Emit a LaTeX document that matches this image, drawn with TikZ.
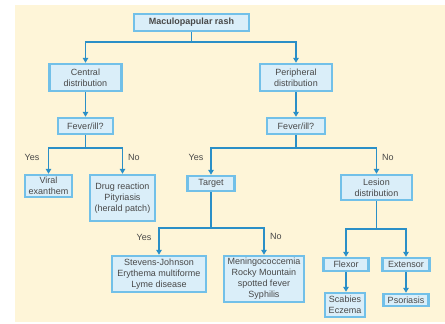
\documentclass[tikz,border=0pt]{standalone}
\usepackage{fontspec}
\setmainfont{Liberation Sans}
\usetikzlibrary{arrows.meta}
\definecolor{cream}{HTML}{FEF5D8}
\definecolor{boxfill}{HTML}{DAEEF9}
\definecolor{boxline}{HTML}{72C0E8}
\definecolor{arrcol}{HTML}{2A8FC7}
\definecolor{txt}{HTML}{484848}
\begin{document}
\begin{tikzpicture}[x=1pt,y=-1pt,
  box/.style={draw=boxline,fill=boxfill,line width=2.4pt,inner sep=0pt,align=center,
    text=txt,font=\fontsize{9}{11}\selectfont},
  conn/.style={draw=arrcol,line width=1.7pt},
  arr/.style={conn,-{Triangle[width=5.5pt,length=5pt]}},
  lab/.style={text=txt,font=\fontsize{9}{11}\selectfont,inner sep=0pt}]
\useasboundingbox (0,0) rectangle (445,324);
\fill[cream] (15,5) rectangle (445,322);
% nodes
\node[box,minimum width=115pt,minimum height=17pt,font=\fontsize{9}{11}\selectfont\bfseries] (top) at (191.5,22.5) {Maculopapular rash};
\node[box,minimum width=72pt,minimum height=27pt] (central) at (85.5,77.5) {Central\\distribution};
\node[box,minimum width=72pt,minimum height=27pt] (periph) at (296,77.5) {Peripheral\\distribution};
\node[box,minimum width=55pt,minimum height=16pt] (fevL) at (85.5,126) {Fever/ill?};
\node[box,minimum width=58pt,minimum height=16pt] (fevR) at (296,126) {Fever/ill?};
\node[box,minimum width=47pt,minimum height=22pt] (viral) at (48.5,186) {Viral\\exanthem};
\node[box,minimum width=65pt,minimum height=46pt] (drug) at (122.5,198) {Drug reaction\\Pityriasis\\(herald patch)};
\node[box,minimum width=47pt,minimum height=15pt] (target) at (211,183.5) {Target};
\node[box,minimum width=71pt,minimum height=25pt] (lesion) at (376.5,187.5) {Lesion\\distribution};
\node[box,minimum width=94pt,minimum height=36pt] (stevens) at (159,274) {Stevens-Johnson\\Erythema multiforme\\Lyme disease};
\node[box,minimum width=80pt,minimum height=46pt] (meningo) at (264,279) {Meningococcemia\\Rocky Mountain\\spotted fever\\Syphilis};
\node[box,minimum width=45pt,minimum height=13pt] (flexor) at (346,264.5) {Flexor};
\node[box,minimum width=47pt,minimum height=13pt] (extensor) at (406,264.5) {Extensor};
\node[box,minimum width=40pt,minimum height=24pt] (scabies) at (345,305) {Scabies\\Eczema};
\node[box,minimum width=45pt,minimum height=12pt] (psoriasis) at (406,300) {Psoriasis};
% connectors
\draw[arr] (top.south) -- (top.south |- 0,42) -| (central.north);
\draw[arr] (top.south |- 0,42) -| (periph.north);
\draw[arr] (central.south) -- (central.south |- fevL.north);
\draw[arr] (periph.south) -- (periph.south |- fevR.north);
\draw[arr] (fevL.south) -- (fevL.south |- 0,148) -| (viral.north);
\draw[arr] (fevL.south |- 0,148) -| (drug.north);
\draw[arr] (fevR.south) -- (fevR.south |- 0,148) -| (target.north);
\draw[arr] (fevR.south |- 0,148) -| (lesion.north);
\draw[arr] (target.south) -- (target.south |- 0,228) -| (stevens.north);
\draw[arr] (target.south |- 0,228) -| (meningo.north);
\draw[arr] (lesion.south) -- (lesion.south |- 0,229) -| (flexor.north);
\draw[arr] (lesion.south |- 0,229) -| (extensor.north);
\draw[arr] (flexor.south) -- (flexor.south |- scabies.north);
\draw[arr] (extensor.south) -- (extensor.south |- psoriasis.north);
% labels
\node[lab] (y1) at (32,157) {Yes};
\node[lab] (n1) at (134,157) {No};
\node[lab] (y2) at (196,157) {Yes};
\node[lab] (n2) at (388,157) {No};
\node[lab] (y3) at (144,237) {Yes};
\node[lab] (n3) at (276,236) {No};
\end{tikzpicture}
\end{document}
